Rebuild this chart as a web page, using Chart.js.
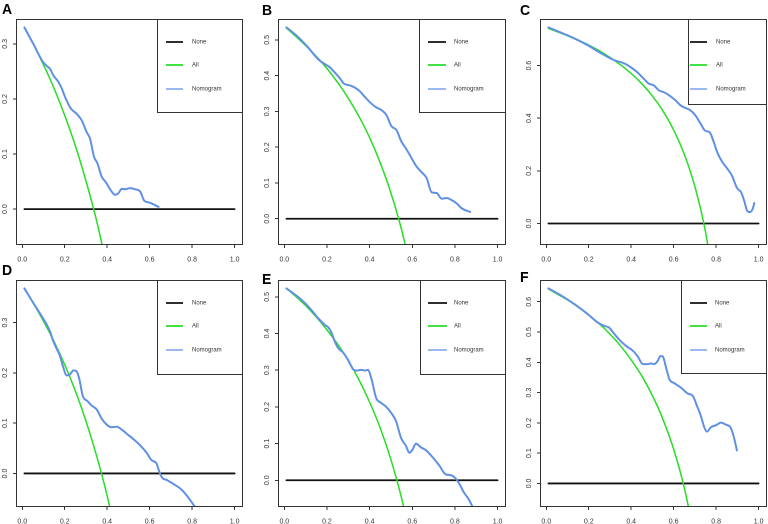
<!DOCTYPE html>
<html>
<head>
<meta charset="utf-8">
<script src="https://cdn.jsdelivr.net/npm/chart.js@4.4.1/dist/chart.umd.min.js"></script>
<style>
  html, body { margin: 0; padding: 0; background: #fff; }
  #fig { position: relative; width: 768px; height: 524px; overflow: hidden; font-family: "Liberation Sans", Arial, sans-serif; }
  .panel { position: absolute; }
  .tag { position: absolute; font-weight: bold; font-size: 14px; line-height: 14px; color: #000; }
</style>
</head>
<body>
<div id="fig"></div>
<script>
(() => {
  // --- data: [threshold probability, net benefit] ---
  const xTicks = [0, 0.2, 0.4, 0.6, 0.8, 1.0];
  const xRange = [-0.0296, 1.0396];
  const noneLine = [[0.01, 0], [1.0, 0]];
  const seriesNames = ['None', 'All', 'Nomogram'];

  const yTicksA = [0, 0.1, 0.2, 0.3];
  const yRangeA = [-0.0652, 0.3452];
  const allA = [[0.01, 0.329], [0.05, 0.301], [0.1, 0.262], [0.15, 0.219], [0.2, 0.170], [0.25, 0.115],
    [0.3, 0.051], [0.35, -0.021], [0.4, -0.107]];
  const nomA = [[0.01, 0.330], [0.052, 0.300], [0.096, 0.268], [0.115, 0.260], [0.130, 0.255], [0.146, 0.243],
    [0.170, 0.231], [0.186, 0.219], [0.201, 0.204], [0.228, 0.183], [0.256, 0.173], [0.280, 0.161],
    [0.303, 0.140], [0.319, 0.128], [0.338, 0.095], [0.354, 0.083], [0.374, 0.059], [0.395, 0.048],
    [0.417, 0.034], [0.437, 0.026], [0.453, 0.029], [0.469, 0.037], [0.484, 0.036], [0.508, 0.038],
    [0.531, 0.036], [0.555, 0.032], [0.575, 0.015], [0.597, 0.012], [0.642, 0.004]];

  const yTicksB = [0, 0.1, 0.2, 0.3, 0.4, 0.5];
  const yRangeB = [-0.0734, 0.5584];
  const allB = [[0.01, 0.533], [0.05, 0.512], [0.1, 0.484], [0.15, 0.454], [0.2, 0.420], [0.25, 0.381],
    [0.3, 0.337], [0.35, 0.286], [0.4, 0.227], [0.45, 0.156], [0.5, 0.072], [0.55, -0.031], [0.6, -0.160]];
  const nomB = [[0.01, 0.535], [0.063, 0.509], [0.110, 0.480], [0.157, 0.447], [0.188, 0.433], [0.212, 0.424],
    [0.235, 0.410], [0.259, 0.394], [0.279, 0.378], [0.306, 0.373], [0.330, 0.367], [0.353, 0.357],
    [0.377, 0.341], [0.408, 0.322], [0.432, 0.311], [0.455, 0.304], [0.479, 0.290], [0.502, 0.259],
    [0.526, 0.248], [0.549, 0.216], [0.573, 0.194], [0.597, 0.169], [0.620, 0.146], [0.644, 0.130],
    [0.667, 0.114], [0.691, 0.074], [0.714, 0.072], [0.738, 0.056], [0.761, 0.058], [0.785, 0.052],
    [0.808, 0.043], [0.832, 0.029], [0.871, 0.019]];

  const yTicksC = [0, 0.2, 0.4, 0.6];
  const yRangeC = [-0.0818, 0.7768];
  const allC = [[0.01, 0.741], [0.1, 0.713], [0.2, 0.678], [0.3, 0.631], [0.4, 0.570], [0.45, 0.531],
    [0.5, 0.484], [0.55, 0.427], [0.6, 0.355], [0.65, 0.263], [0.7, 0.140], [0.75, -0.032], [0.8, -0.290]];
  const nomC = [[0.01, 0.745], [0.067, 0.726], [0.130, 0.704], [0.193, 0.678], [0.255, 0.648], [0.318, 0.621],
    [0.350, 0.613], [0.373, 0.606], [0.397, 0.594], [0.428, 0.575], [0.459, 0.550], [0.483, 0.531],
    [0.506, 0.525], [0.530, 0.506], [0.553, 0.499], [0.585, 0.483], [0.608, 0.468], [0.632, 0.449],
    [0.655, 0.439], [0.679, 0.430], [0.702, 0.411], [0.726, 0.380], [0.749, 0.352], [0.770, 0.346],
    [0.788, 0.311], [0.807, 0.267], [0.828, 0.235], [0.851, 0.210], [0.875, 0.181], [0.898, 0.135],
    [0.918, 0.118], [0.933, 0.084], [0.945, 0.050], [0.958, 0.043], [0.972, 0.055], [0.980, 0.078]];

  const yTicksD = [0, 0.1, 0.2, 0.3];
  const yRangeD = [-0.0667, 0.3847];
  const allD = [[0.01, 0.367], [0.05, 0.340], [0.1, 0.303], [0.15, 0.262], [0.2, 0.216], [0.25, 0.164],
    [0.3, 0.104], [0.35, 0.035], [0.4, -0.045], [0.45, -0.140]];
  const nomD = [[0.01, 0.368], [0.052, 0.339], [0.091, 0.313], [0.115, 0.296], [0.130, 0.283], [0.146, 0.263],
    [0.162, 0.248], [0.178, 0.233], [0.193, 0.211], [0.209, 0.195], [0.225, 0.197], [0.241, 0.205],
    [0.256, 0.203], [0.269, 0.187], [0.285, 0.154], [0.307, 0.144], [0.327, 0.135], [0.351, 0.127],
    [0.374, 0.109], [0.398, 0.097], [0.421, 0.092], [0.445, 0.093], [0.469, 0.087], [0.492, 0.079],
    [0.524, 0.068], [0.555, 0.056], [0.586, 0.041], [0.610, 0.026], [0.631, 0.021], [0.646, 0.003],
    [0.660, -0.009], [0.681, -0.013], [0.712, -0.021], [0.744, -0.030], [0.775, -0.044], [0.811, -0.065]];

  const yTicksE = [0, 0.1, 0.2, 0.3, 0.4, 0.5];
  const yRangeE = [-0.0729, 0.5459];
  const allE = [[0.01, 0.523], [0.05, 0.503], [0.1, 0.476], [0.15, 0.445], [0.2, 0.410], [0.25, 0.371],
    [0.3, 0.326], [0.35, 0.274], [0.4, 0.213], [0.45, 0.142], [0.5, 0.056], [0.55, -0.049], [0.6, -0.180]];
  const nomE = [[0.01, 0.523], [0.074, 0.495], [0.121, 0.468], [0.160, 0.441], [0.191, 0.423], [0.206, 0.417],
    [0.222, 0.401], [0.237, 0.378], [0.253, 0.360], [0.276, 0.348], [0.299, 0.328], [0.322, 0.303],
    [0.338, 0.299], [0.361, 0.301], [0.377, 0.299], [0.392, 0.301], [0.408, 0.278], [0.431, 0.224],
    [0.454, 0.211], [0.478, 0.200], [0.501, 0.184], [0.524, 0.161], [0.547, 0.116], [0.571, 0.093],
    [0.586, 0.075], [0.602, 0.084], [0.617, 0.100], [0.640, 0.090], [0.664, 0.082], [0.695, 0.063],
    [0.726, 0.041], [0.757, 0.016], [0.780, 0.014], [0.800, 0.007], [0.819, -0.008], [0.842, -0.033],
    [0.865, -0.052], [0.884, -0.074]];

  const yTicksF = [0, 0.1, 0.2, 0.3, 0.4, 0.5, 0.6];
  const yRangeF = [-0.0778, 0.6718];
  const allF = [[0.01, 0.642], [0.05, 0.626], [0.1, 0.606], [0.15, 0.582], [0.2, 0.556], [0.25, 0.527],
    [0.3, 0.493], [0.35, 0.454], [0.4, 0.408], [0.45, 0.355], [0.5, 0.290], [0.55, 0.211], [0.6, 0.113],
    [0.65, -0.014], [0.7, -0.183]];
  const nomF = [[0.01, 0.644], [0.071, 0.620], [0.133, 0.592], [0.196, 0.559], [0.243, 0.531], [0.274, 0.520],
    [0.295, 0.515], [0.318, 0.496], [0.345, 0.474], [0.376, 0.454], [0.408, 0.438], [0.431, 0.419],
    [0.455, 0.394], [0.475, 0.394], [0.494, 0.396], [0.509, 0.394], [0.525, 0.405], [0.538, 0.421],
    [0.549, 0.419], [0.564, 0.383], [0.580, 0.344], [0.603, 0.331], [0.635, 0.316], [0.666, 0.297],
    [0.690, 0.289], [0.710, 0.256], [0.729, 0.221], [0.745, 0.184], [0.757, 0.171], [0.776, 0.186],
    [0.799, 0.192], [0.823, 0.201], [0.846, 0.194], [0.867, 0.186], [0.882, 0.157], [0.898, 0.109]];

  // --- layout ---
  const colLeft = [0, 262, 524];
  const colWidth = [244, 245, 244];
  const rowTop = [0, 262];
  const rowPadTop = [19, 18];
  const FONT = '"Liberation Sans", Arial, sans-serif';
  const INK = '#333';
  const colors = { None: '#111111', All: '#26de26', Nomogram: '#5f90e4' };

  const panels = [
    { tag: 'A', tagPos: [2, 1.5], col: 0, row: 0, nom: nomA, all: allA, yRange: yRangeA, yTicks: yTicksA, legend: { w: 86, h: 93, s0: 9, s1: 26, t: 35 } },
    { tag: 'B', tagPos: [262, 3], col: 1, row: 0, nom: nomB, all: allB, yRange: yRangeB, yTicks: yTicksB, legend: { w: 87, h: 93, s0: 9, s1: 27, t: 35 } },
    { tag: 'C', tagPos: [520, 3], col: 2, row: 0, nom: nomC, all: allC, yRange: yRangeC, yTicks: yTicksC, legend: { w: 79, h: 85, s0: 2, s1: 19, t: 28 } },
    { tag: 'D', tagPos: [2, 263], col: 0, row: 1, nom: nomD, all: allD, yRange: yRangeD, yTicks: yTicksD, legend: { w: 86, h: 94, s0: 9, s1: 26, t: 35 } },
    { tag: 'E', tagPos: [262, 271.5], col: 1, row: 1, nom: nomE, all: allE, yRange: yRangeE, yTicks: yTicksE, legend: { w: 86, h: 94, s0: 8, s1: 27, t: 34 } },
    { tag: 'F', tagPos: [520, 270], col: 2, row: 1, nom: nomF, all: allF, yRange: yRangeF, yTicks: yTicksF, legend: { w: 86, h: 93, s0: 9, s1: 26, t: 34 } }
  ];

  // frame, tick labels and the boxed legend, R style
  const rFrame = {
    id: 'rFrame',
    afterDraw(chart, args, opts) {
      const { ctx, chartArea: a, scales } = chart;
      ctx.save();
      ctx.strokeStyle = INK;
      ctx.lineWidth = 1;
      ctx.strokeRect(a.left + 0.5, a.top + 0.5, a.right - a.left - 1, a.bottom - a.top - 1);

      ctx.fillStyle = INK;
      ctx.font = '7px ' + FONT;
      ctx.textAlign = 'center';
      ctx.textBaseline = 'middle';
      scales.x.ticks.forEach(t => {
        ctx.fillText(t.value.toFixed(1), scales.x.getPixelForValue(t.value), a.bottom + 14.5);
      });
      scales.y.ticks.forEach(t => {
        const y = scales.y.getPixelForValue(t.value);
        ctx.save();
        ctx.translate(a.left - 11, y);
        ctx.rotate(-Math.PI / 2);
        ctx.fillText(t.value.toFixed(1), 0, 0);
        ctx.restore();
      });

      const L = opts.box;
      if (L) {
        const x0 = a.right - L.w, y0 = a.top;
        ctx.fillStyle = '#fff';
        ctx.fillRect(x0, y0, L.w, L.h);
        ctx.strokeStyle = INK;
        ctx.strokeRect(x0 + 0.5, y0 + 0.5, L.w - 1, L.h);
        const rows = [23, 46, 70];
        ctx.font = '6px ' + FONT;
        ctx.textAlign = 'left';
        seriesNames.forEach((name, i) => {
          const y = y0 + rows[i];
          ctx.strokeStyle = colors[name];
          ctx.lineWidth = name === 'Nomogram' ? 1.2 : 1.8;
          ctx.beginPath();
          ctx.moveTo(x0 + L.s0, y);
          ctx.lineTo(x0 + L.s1, y);
          ctx.stroke();
          ctx.fillStyle = INK;
          ctx.fillText(name, x0 + L.t, y);
        });
      }
      ctx.restore();
    }
  };

  const toPts = arr => arr.map(([x, y]) => ({ x, y }));

  const fig = document.getElementById('fig');
  panels.forEach(p => {
    const left = colLeft[p.col], top = rowTop[p.row];
    const w = colWidth[p.col], h = 262;

    const wrap = document.createElement('div');
    wrap.className = 'panel';
    wrap.style.left = left + 'px';
    wrap.style.top = top + 'px';
    wrap.style.width = w + 'px';
    wrap.style.height = h + 'px';
    const cv = document.createElement('canvas');
    cv.width = w; cv.height = h;
    cv.style.width = w + 'px'; cv.style.height = h + 'px';
    wrap.appendChild(cv);
    fig.appendChild(wrap);

    const tag = document.createElement('div');
    tag.className = 'tag';
    tag.textContent = p.tag;
    tag.style.left = p.tagPos[0] + 'px';
    tag.style.top = p.tagPos[1] + 'px';
    fig.appendChild(tag);

    new Chart(cv.getContext('2d'), {
      type: 'line',
      data: {
        datasets: [
          { label: 'None', data: toPts(noneLine), borderColor: colors.None, borderWidth: 1.8, order: 3 },
          { label: 'All', data: toPts(p.all), borderColor: colors.All, borderWidth: 1.5, order: 2 },
          { label: 'Nomogram', data: toPts(p.nom), borderColor: colors.Nomogram, borderWidth: 2, order: 1 }
        ]
      },
      options: {
        responsive: false,
        animation: false,
        devicePixelRatio: 2,
        parsing: false,
        layout: { padding: { top: rowPadTop[p.row], right: 1, left: 0, bottom: 0 } },
        elements: {
          point: { radius: 0 },
          line: { cubicInterpolationMode: 'monotone', fill: false, borderCapStyle: 'round', borderJoinStyle: 'round' }
        },
        plugins: {
          legend: { display: false },
          tooltip: { enabled: false },
          rFrame: { box: p.legend }
        },
        scales: {
          x: {
            type: 'linear',
            min: xRange[0],
            max: xRange[1],
            afterBuildTicks: s => { s.ticks = xTicks.map(v => ({ value: v })); },
            afterFit: s => { s.height = 17; s.paddingLeft = 0; s.paddingRight = 0; },
            border: { display: false },
            grid: { display: true, drawOnChartArea: false, drawTicks: true, tickLength: 3, color: INK, lineWidth: 1 },
            ticks: { display: false }
          },
          y: {
            type: 'linear',
            min: p.yRange[0],
            max: p.yRange[1],
            afterBuildTicks: s => { s.ticks = p.yTicks.map(v => ({ value: v })); },
            afterFit: s => { s.width = 16; s.paddingTop = 0; s.paddingBottom = 0; },
            border: { display: false },
            grid: { display: true, drawOnChartArea: false, drawTicks: true, tickLength: 3, color: INK, lineWidth: 1 },
            ticks: { display: false }
          }
        }
      },
      plugins: [rFrame]
    });
  });
})();
</script>
</body>
</html>
